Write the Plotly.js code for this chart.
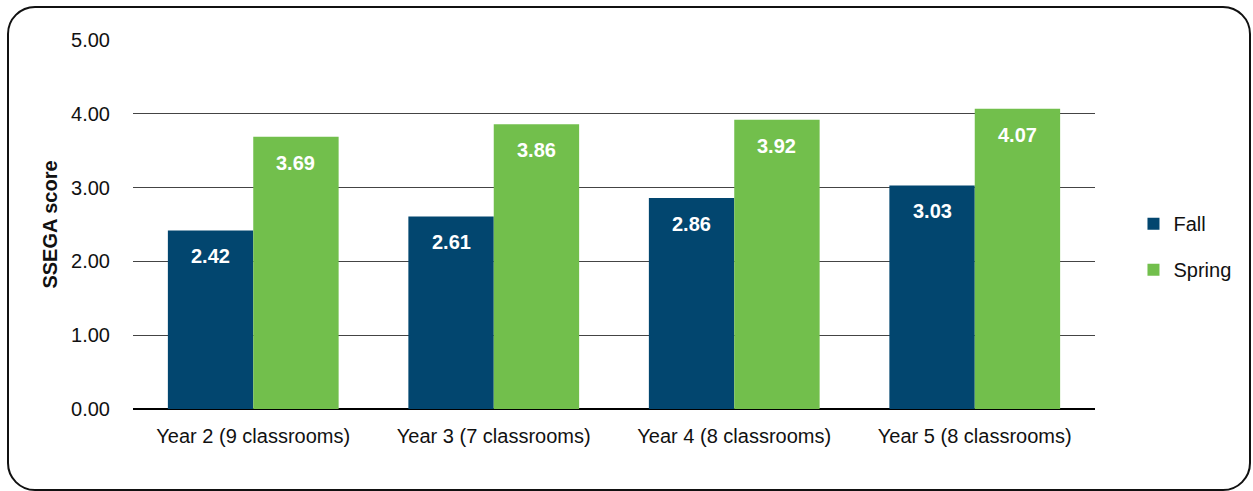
<!DOCTYPE html>
<html><head><meta charset="utf-8">
<script src="https://cdn.plot.ly/plotly-3.0.1.min.js"></script>
<style>
html,body{margin:0;padding:0;background:#fff;}
#wrap{position:relative;width:1253px;height:491px;}
#chart{position:absolute;left:0;top:0;width:1253px;height:491px;}
#border{position:absolute;left:7px;top:6px;width:1240px;height:481px;border:2px solid #111;border-radius:28px;pointer-events:none;}
</style></head>
<body><div id="wrap"><div id="chart"></div><div id="border"></div></div>
<script>
const categories = ["Year 2 (9 classrooms)","Year 3 (7 classrooms)","Year 4 (8 classrooms)","Year 5 (8 classrooms)"];
const fallValues = [2.42, 2.61, 2.86, 3.03];
const springValues = [3.69, 3.86, 3.92, 4.07];
const yTickVals = [0,1,2,3,4,5];
const yTickText = ["0.00","1.00","2.00","3.00","4.00","5.00"];

const FONT = "Liberation Sans, Arial, sans-serif";
const bargap = 0.29;
const barW = (1 - bargap) / 2;
const idx = categories.map((c,i)=>i);

const annotations = [];
idx.forEach(i=>{
  annotations.push({x:i - barW/2, y:fallValues[i], xref:'x', yref:'y', text:fallValues[i].toFixed(2), showarrow:false, yshift:-26, font:{family:FONT,size:20,color:'#fff',weight:'bold'}});
  annotations.push({x:i + barW/2, y:springValues[i], xref:'x', yref:'y', text:springValues[i].toFixed(2), showarrow:false, yshift:-26, font:{family:FONT,size:20,color:'#fff',weight:'bold'}});
});

const data = [
  {type:'bar', name:'Fall', x:idx, y:fallValues, marker:{color:'#02466F'}, legendgroup:'a', hoverinfo:'skip'},
  {type:'bar', name:'Spring', x:idx, y:springValues, marker:{color:'#72BF4C'}, legendgroup:'b', hoverinfo:'skip'}
];
const layout = {
  width:1253, height:491,
  margin:{l:133, r:158, t:40, b:82},
  paper_bgcolor:'rgba(0,0,0,0)', plot_bgcolor:'#fff',
  barmode:'group', bargap:bargap, bargroupgap:0,
  font:{family:FONT, size:20, color:'#111'},
  xaxis:{tickvals:idx, ticktext:categories, range:[-0.5,3.5], showgrid:false, zeroline:false,
    ticks:'outside', ticklen:9, tickcolor:'rgba(0,0,0,0)', tickfont:{size:20}, showline:false},
  yaxis:{range:[0,5], tickvals:yTickVals, ticktext:yTickText, showgrid:true, gridcolor:'#444', gridwidth:1,
    zeroline:true, zerolinecolor:'#000', zerolinewidth:2, ticks:'outside', ticklen:18, tickcolor:'rgba(0,0,0,0)',
    tickfont:{size:20},
    title:{text:'SSEGA score', font:{size:20, weight:'bold'}, standoff:8}},
  legend:{x:1.04, y:0.44, xanchor:'left', yanchor:'middle', font:{size:20}, traceorder:'grouped', tracegroupgap:17, itemwidth:30},
  annotations:annotations,
  showlegend:true
};
Plotly.newPlot('chart', data, layout, {displayModeBar:false, staticPlot:true});
</script></body></html>
